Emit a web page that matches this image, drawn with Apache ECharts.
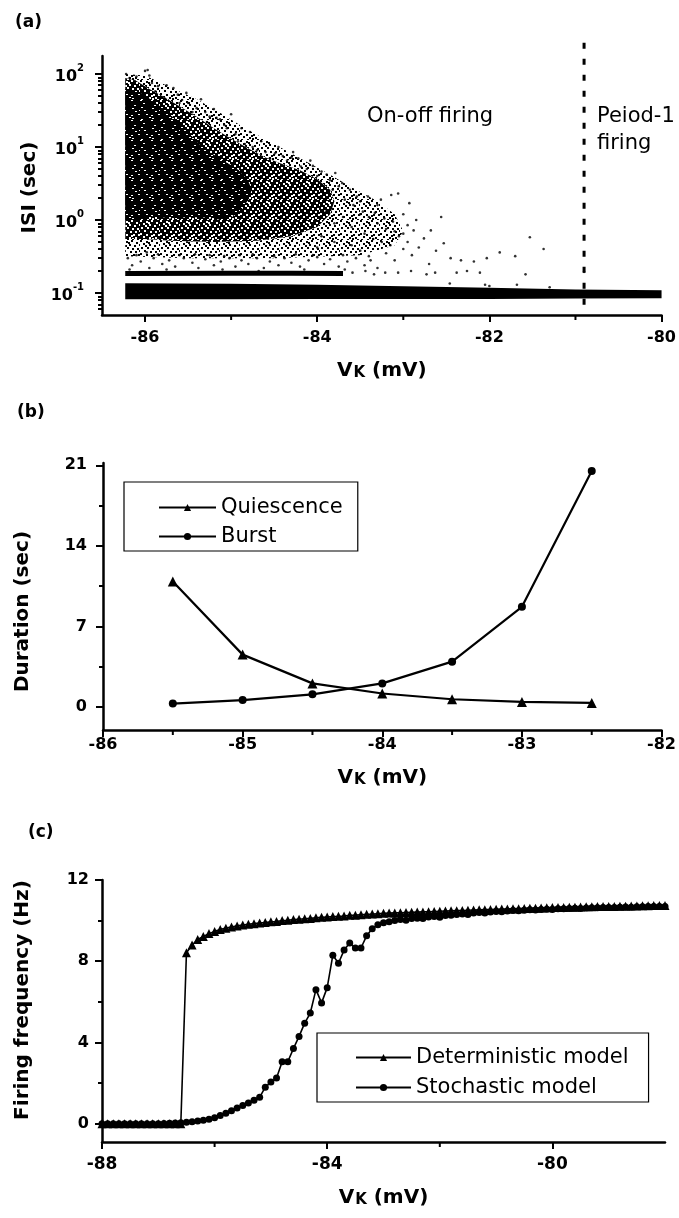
<!DOCTYPE html>
<html><head><meta charset="utf-8">
<script src="https://cdn.jsdelivr.net/npm/echarts@6/dist/echarts.min.js"></script>
<style>html,body{margin:0;padding:0;background:#fff}#c{width:679px;height:1218px}</style>
</head><body><div id="c"></div>
<script>
const FONT = 'DejaVu Sans';

// ---------- panel (a): ISI vs V_K ----------
const isiTicks = [0.1, 1, 10, 100];
const isiMinorTicks = [0.06,0.07,0.08,0.09,0.2,0.3,0.4,0.5,0.6,0.7,0.8,0.9,2,3,4,5,6,7,8,9,20,30,40,50,60,70,80,90];
const vkTicksA = [-86, -84, -82, -80];
const vkMinorA = [-85, -83, -81];
// density zones of the ISI cloud (outlines)
const cloudLight = [[-86.23,100],[-86.0,95],[-85.7,65],[-85.4,45],[-85.1,28],[-84.8,17],[-84.5,11],[-84.2,7],[-83.9,4.5],[-83.6,2.8],[-83.3,1.8],[-83.1,1.2],[-83.0,0.7],[-83.1,0.45],[-83.5,0.33],[-84.5,0.3],[-85.5,0.3],[-86.23,0.32]];
const cloudMedium = [[-86.23,88],[-86.1,80],[-85.95,62],[-85.8,50],[-85.6,36],[-85.4,26],[-85.2,18],[-85.0,13],[-84.8,9.5],[-84.6,7.2],[-84.4,5.8],[-84.2,4.8],[-84.0,3.6],[-83.85,2.6],[-83.8,1.8],[-83.85,1.2],[-84.0,0.8],[-84.3,0.6],[-84.7,0.52],[-85.2,0.5],[-85.7,0.52],[-86.0,0.55],[-86.23,0.55]];
const cloudCore = [[-86.23,62],[-86.1,58],[-86.03,54],[-85.95,46],[-85.88,40],[-85.78,33],[-85.68,26],[-85.58,20],[-85.49,15.5],[-85.4,12],[-85.3,9],[-85.2,7.8],[-85.1,6.6],[-85.0,5.6],[-84.91,4.8],[-84.85,4],[-84.8,3.4],[-84.76,2.6],[-84.8,1.9],[-84.86,1.5],[-84.91,1.25],[-85.0,1.1],[-85.1,1.0],[-85.3,1.08],[-85.5,1.1],[-85.7,1.05],[-85.9,1.12],[-86.05,1.0],[-86.23,1.0]];
const band01 = [[-86.23,0.136],[-85,0.134],[-84,0.13],[-83,0.124],[-82,0.118],[-81,0.112],[-80,0.109],[-80,0.085],[-81,0.084],[-82,0.083],[-84,0.083],[-85,0.082],[-86.23,0.082]];
const band019 = [[-86.23,0.185],[-85,0.187],[-84.3,0.186],[-83.7,0.185]];
const isiPoints = [
 [-86.22,100],[-86.18,88],[-86.1,92],[-86.0,110],[-85.97,113],[-85.92,75],[-85.85,68],[-85.67,64],[-85.62,52],[-85.57,44],
 [-85.5,40],[-85.4,34],[-85.3,30],[-85.25,26],[-85.17,25],[-85.13,24],[-85.05,18],[-84.95,15],[-84.84,11],[-84.75,10],
 [-84.6,8.5],[-84.49,8.2],[-84.4,7.5],[-84.3,7.2],[-84.22,7],[-84.19,5.4],[-84.05,5.5],[-83.95,4.6],[-83.89,4.2],[-83.79,4.4],
 [-83.71,3.2],[-83.62,2.6],[-83.54,2.1],[-83.41,2.1],[-83.3,1.6],[-83.26,1.9],[-83.14,2.2],[-83.06,2.3],[-82.93,1.7],[-83.0,1.2],
 [-82.85,1.0],[-82.56,1.1],[-82.88,0.72],[-82.68,0.72],[-82.76,0.56],[-82.53,0.48],[-82.62,0.38],[-82.45,0.3],[-82.33,0.28],[-82.18,0.27],
 [-82.03,0.3],[-81.88,0.36],[-81.7,0.32],[-81.53,0.58],[-81.37,0.4],[-81.58,0.18],[-81.68,0.13],[-82.05,0.13],[-82.46,0.135],[-80.9,0.195],
 [-82.95,0.5],[-82.9,0.33],[-83.05,0.6],[-83.15,0.45],[-83.2,0.75],[-83.35,0.55],[-83.1,0.28],[-82.7,0.25],
 [-83.59,0.19],[-83.44,0.2],[-83.34,0.18],[-83.21,0.19],[-83.06,0.19],[-82.91,0.2],[-82.73,0.18],[-82.63,0.19],[-82.38,0.19],[-82.26,0.2],[-82.11,0.19],
 [-86.2,0.3],[-86.15,0.24],[-86.05,0.27],[-85.95,0.22],[-85.9,0.3],[-85.8,0.25],[-85.72,0.28],[-85.65,0.23],[-85.55,0.3],[-85.45,0.26],
 [-85.38,0.22],[-85.3,0.29],[-85.2,0.24],[-85.12,0.27],[-85.02,0.3],[-84.95,0.23],[-84.88,0.28],[-84.8,0.25],[-84.7,0.3],[-84.62,0.22],
 [-84.55,0.27],[-84.45,0.24],[-84.38,0.3],[-84.3,0.26],[-84.2,0.23],[-84.1,0.28],[-84.0,0.31],[-83.92,0.25],[-83.85,0.29],[-83.75,0.23],
 [-83.65,0.27],[-83.55,0.3],[-83.45,0.24],[-83.38,0.28],[-83.3,0.22],
 [-83.9,1.3],[-83.8,0.9],[-83.7,1.1],[-83.6,0.8],[-83.5,1.2],[-83.45,0.65],[-83.3,0.9],[-83.25,0.5],[-83.1,0.7],[-83.6,0.45],
 [-83.8,0.5],[-84.0,0.42],[-83.95,0.6],[-82.0,0.125],[-81.3,0.12],
 [-86.12,80],[-86.05,62],[-85.95,95],[-85.88,58],[-85.78,48],[-85.75,70],[-85.6,40],[-85.52,55],[-85.45,30],[-85.35,45],
 [-85.28,22],[-85.2,33],[-85.08,20],[-85.0,28],[-84.92,12],[-84.88,18],[-84.78,16],[-84.7,9],[-84.65,12],[-84.55,7],
 [-84.45,10],[-84.35,6.5],[-84.28,8.5],[-84.12,5],[-84.08,6.5],[-84.0,4],[-83.98,3.2],[-83.85,3.5],[-83.82,2.6],[-83.75,2.9],
 [-83.68,1.9],[-83.58,1.6],[-83.5,1.8],[-83.47,1.3],[-83.4,1.1],[-83.33,1.25],[-83.22,1.05],
 [-86.1,0.33],[-85.98,0.36],[-85.85,0.34],[-85.6,0.33],[-85.42,0.34],[-85.25,0.33],[-85.08,0.32],[-84.9,0.33],[-84.75,0.34],[-84.5,0.32],
 [-84.25,0.34],[-84.05,0.33],[-83.7,0.33],[-83.5,0.38],[-83.4,0.32],[-86.18,0.21],[-85.75,0.21],[-85.1,0.21],[-84.68,0.2],[-84.15,0.21],
 [-83.68,0.21],[-83.2,0.35],[-83.0,0.4],[-82.95,0.85],[-82.82,0.42],[-83.12,0.95],[-83.0,0.65]
];
const transitionLine = [[-80.9,0.069],[-80.9,320]];

// ---------- panel (b): durations ----------
const vkB = [-85.5, -85, -84.5, -84, -83.5, -83, -82.5];
const quiescence = [10.9, 4.55, 2.05, 1.17, 0.67, 0.44, 0.35];
const burst = [0.3, 0.6, 1.1, 2.05, 3.94, 8.7, 20.5];
const vkTicksB = [-86, -85, -84, -83, -82];
const vkMinorB = [-85.5, -84.5, -83.5, -82.5];
const durTicks = [0, 7, 14, 21];
const durMinor = [3.5, 10.5, 17.5];

// ---------- panel (c): firing frequency ----------
const vkC = [
 -88,-87.9,-87.8,-87.7,-87.6,-87.5,-87.4,-87.3,-87.2,-87.1,
 -87,-86.9,-86.8,-86.7,-86.6,-86.5,-86.4,-86.3,-86.2,-86.1,
 -86,-85.9,-85.8,-85.7,-85.6,-85.5,-85.4,-85.3,-85.2,-85.1,
 -85,-84.9,-84.8,-84.7,-84.6,-84.5,-84.4,-84.3,-84.2,-84.1,
 -84,-83.9,-83.8,-83.7,-83.6,-83.5,-83.4,-83.3,-83.2,-83.1,
 -83,-82.9,-82.8,-82.7,-82.6,-82.5,-82.4,-82.3,-82.2,-82.1,
 -82,-81.9,-81.8,-81.7,-81.6,-81.5,-81.4,-81.3,-81.2,-81.1,
 -81,-80.9,-80.8,-80.7,-80.6,-80.5,-80.4,-80.3,-80.2,-80.1,
 -80,-79.9,-79.8,-79.7,-79.6,-79.5,-79.4,-79.3,-79.2,-79.1,
 -79,-78.9,-78.8,-78.7,-78.6,-78.5,-78.4,-78.3,-78.2,-78.1,
 -78];
const deterministic = [
 0,0,0,0,0,0,0,0,0,0,
 0,0,0,0,0,8.42,8.8,9.07,9.22,9.36,
 9.47,9.56,9.63,9.69,9.74,9.78,9.82,9.85,9.88,9.91,
 9.94,9.96,10.0,10.02,10.05,10.07,10.09,10.11,10.14,10.16,
 10.18,10.2,10.21,10.23,10.26,10.27,10.29,10.31,10.32,10.34,
 10.36,10.37,10.38,10.39,10.4,10.41,10.42,10.43,10.44,10.45,
 10.46,10.47,10.48,10.49,10.5,10.51,10.52,10.53,10.54,10.55,
 10.56,10.57,10.57,10.58,10.59,10.6,10.61,10.61,10.62,10.63,
 10.64,10.64,10.65,10.66,10.66,10.67,10.68,10.68,10.69,10.69,
 10.7,10.7,10.71,10.71,10.72,10.72,10.73,10.73,10.74,10.74,
 10.75];
const stochastic = [
 0,0,0,0,0,0,0,0,0,0,
 0,0.01,0.02,0.03,0.05,0.07,0.1,0.13,0.17,0.22,
 0.3,0.4,0.52,0.64,0.77,0.9,1.02,1.15,1.3,1.8,
 2.05,2.25,3.05,3.05,3.7,4.3,4.95,5.45,6.6,5.95,
 6.7,8.3,7.9,8.55,8.9,8.65,8.65,9.25,9.6,9.8,
 9.9,9.95,10.0,10.05,10.02,10.1,10.12,10.1,10.18,10.2,
 10.16,10.25,10.27,10.3,10.32,10.3,10.37,10.4,10.38,10.42,
 10.45,10.44,10.47,10.5,10.48,10.51,10.53,10.52,10.55,10.56,
 10.55,10.58,10.59,10.6,10.61,10.6,10.62,10.63,10.63,10.64,
 10.65,10.64,10.66,10.67,10.66,10.68,10.68,10.69,10.69,10.7,
 10.7];
const vkTicksC = [-88, -84, -80];
const vkMinorC = [-86, -82];
const freqTicks = [0, 4, 8, 12];
const freqMinor = [2, 6, 10];

// ---------- helpers ----------
const zip = (xs, ys) => xs.map((x, i) => [x, ys[i]]);
const BLACK = '#000';
const ISI_MIN = 0.05, ISI_MAX = 176;
const DUR_MIN = -2, DUR_MAX = 21.2;
const FREQ_MIN = -0.9, FREQ_MAX = 12;

// stipple textures standing in for the overplotted dots of the cloud
const speckSpots = [[0,0],[6,1],[11,0],[16,2],[3,3],[9,4],[14,5],[19,4],[1,7],[7,7],[12,8],[17,8],[4,10],[10,11],
  [15,11],[0,13],[6,14],[13,14],[18,14],[3,16],[9,17],[15,17],[1,19],[7,19],[12,18],[17,19],[19,10],[5,5],[11,15],[8,2]];
function stipple(bg, fg, specks, w, h) {
  const cv = document.createElement('canvas');
  cv.width = 20; cv.height = 20;
  const ctx = cv.getContext('2d');
  if (bg) { ctx.fillStyle = bg; ctx.fillRect(0, 0, 20, 20); }
  ctx.fillStyle = fg;
  specks.forEach(([x, y]) => ctx.fillRect(x, y, w, h));
  return {image: cv, repeat: 'repeat'};
}
const lightTexture = stipple(null, '#000', speckSpots, 2, 2);
const mediumTexture = stipple('#000', '#fff', speckSpots, 2, 2);
const denseTexture = stipple('#000', '#fff', speckSpots.filter((p, i) => i % 2 === 0), 2, 1);

const lineAxis = {show: true, onZero: false, lineStyle: {color: BLACK, width: 2.5}};
const tickStyle = {color: BLACK, width: 2};
const labelFont = (size, margin) => ({fontFamily: FONT, fontWeight: 'bold', fontSize: size, color: BLACK, margin});
const titleStyle = (padding) => ({fontFamily: FONT, fontWeight: 'bold', fontSize: 20, color: BLACK, padding});
const vkName = '{v|V}{k|K}{v| (mV)}';
const vkNameStyle = {
  rich: {
    v: {fontFamily: FONT, fontWeight: 'bold', fontSize: 20, color: BLACK, lineHeight: 20, verticalAlign: 'top'},
    k: {fontFamily: FONT, fontWeight: 'bold', fontSize: 15, color: BLACK, lineHeight: 15, padding: [19, 0, 0, 1], verticalAlign: 'bottom'}
  }
};
function mainX(grid, min, max, ticks, margin, size, gap) {
  return {gridIndex: grid, type: 'value', position: 'bottom', min, max, axisLine: lineAxis,
    axisTick: {show: true, length: 7, lineStyle: tickStyle, customValues: ticks},
    axisLabel: Object.assign({customValues: ticks}, labelFont(size, margin)),
    splitLine: {show: false}, name: vkName, nameLocation: 'middle', nameGap: gap, nameTextStyle: vkNameStyle};
}
function minorYAxis(grid, type, min, max, ticks) {
  return {gridIndex: grid, type, position: 'left', min, max, axisLine: {show: false, onZero: false},
    axisTick: {show: true, length: 4, lineStyle: tickStyle, customValues: ticks},
    axisLabel: {show: false}, splitLine: {show: false}};
}
function mainY(grid, type, min, max, ticks, margin, name, gap, padding, extraLabel) {
  return {gridIndex: grid, type, position: 'left', min, max, axisLine: lineAxis,
    axisTick: {show: true, length: 7, lineStyle: tickStyle, customValues: ticks},
    axisLabel: Object.assign({customValues: ticks}, labelFont(16, margin), extraLabel || {}),
    splitLine: {show: false}, name, nameLocation: 'middle', nameGap: gap, nameTextStyle: titleStyle(padding)};
}
function polygonSeries(pts, fill) {
  return {type: 'custom', xAxisIndex: 0, yAxisIndex: 0, data: pts, encode: {x: 0, y: 1}, silent: true, clip: true,
    renderItem: (params, api) => params.dataIndex === 0 ? {
      type: 'polygon', shape: {points: pts.map(p => api.coord(p))}, style: {fill}
    } : null};
}
// short minor tick marks under an x axis, placed through the axis scale
function minorXTicks(xIdx, yIdx, values, yMin) {
  return {type: 'custom', xAxisIndex: xIdx, yAxisIndex: yIdx, data: values.map(v => [v, yMin]),
    encode: {x: 0, y: 1}, clip: false, silent: true, z: 5,
    renderItem: (params, api) => {
      const p = api.coord([api.value(0), api.value(1)]);
      return {type: 'line', shape: {x1: p[0], y1: p[1] + 1, x2: p[0], y2: p[1] + 5},
              style: {stroke: BLACK, lineWidth: 2}};
    }};
}

const option = {
  animation: false,
  backgroundColor: '#fff',
  grid: [
    {left: 102, top: 56, width: 563, height: 259},
    {left: 103, top: 463, width: 562, height: 267},
    {left: 102, top: 880, width: 563, height: 262}
  ],
  xAxis: [
    mainX(0, -86.5, -80, vkTicksA, 15, 16, 32),
    mainX(1, -86, -82, vkTicksB, 7, 16, 35),
    mainX(2, -88, -78, vkTicksC, 14, 17, 41)
  ],
  yAxis: [
    mainY(0, 'log', ISI_MIN, ISI_MAX, isiTicks, 18, 'ISI (sec)', 57, [0, 4, 0, 0], {
      formatter: v => '{b|10}{s|' + Math.round(Math.log10(v)) + '}',
      rich: {
        b: {fontFamily: FONT, fontWeight: 'bold', fontSize: 16, color: BLACK, lineHeight: 22, verticalAlign: 'bottom'},
        s: {fontFamily: FONT, fontWeight: 'bold', fontSize: 10, color: BLACK, lineHeight: 12, verticalAlign: 'top'}
      }
    }),
    minorYAxis(0, 'log', ISI_MIN, ISI_MAX, isiMinorTicks),
    mainY(1, 'value', DUR_MIN, DUR_MAX, durTicks, 16, 'Duration (sec)', 70, [0, 30, 0, 0]),
    minorYAxis(1, 'value', DUR_MIN, DUR_MAX, durMinor),
    mainY(2, 'value', FREQ_MIN, FREQ_MAX, freqTicks, 13, 'Firing frequency (Hz)', 69, [0, 0, 0, 22]),
    minorYAxis(2, 'value', FREQ_MIN, FREQ_MAX, freqMinor)
  ],
  legend: [
    {data: ['Quiescence', 'Burst'], orient: 'vertical', left: 124, top: 482, padding: [15, 15, 4, 34],
     itemGap: 8, itemWidth: 57, itemHeight: 9, selectedMode: false,
     borderColor: BLACK, borderWidth: 1.2, textStyle: {fontFamily: FONT, fontSize: 21, color: BLACK, lineHeight: 21}},
    {data: ['Deterministic model', 'Stochastic model'], orient: 'vertical', left: 317, top: 1033, padding: [14, 20, 4, 38],
     itemGap: 9, itemWidth: 55, itemHeight: 9, selectedMode: false,
     borderColor: BLACK, borderWidth: 1.2, textStyle: {fontFamily: FONT, fontSize: 21, color: BLACK, lineHeight: 21}}
  ],
  graphic: [
    {type: 'text', left: 15, top: 14, style: {text: '(a)', font: 'bold 17px "DejaVu Sans"', fill: BLACK}},
    {type: 'text', left: 17, top: 404, style: {text: '(b)', font: 'bold 17px "DejaVu Sans"', fill: BLACK}},
    {type: 'text', left: 28, top: 824, style: {text: '(c)', font: 'bold 17px "DejaVu Sans"', fill: BLACK}},
    {type: 'text', left: 367, top: 106, style: {text: 'On-off firing', font: '21px "DejaVu Sans"', fill: BLACK}},
    {type: 'text', left: 597, top: 106, style: {text: 'Peiod-1', font: '21px "DejaVu Sans"', fill: BLACK}},
    {type: 'text', left: 597, top: 133, style: {text: 'firing', font: '21px "DejaVu Sans"', fill: BLACK}}
  ],
  series: [
    polygonSeries(cloudLight, lightTexture),
    polygonSeries(cloudMedium, mediumTexture),
    polygonSeries(cloudCore, denseTexture),
    polygonSeries(band01, BLACK),
    {type: 'line', xAxisIndex: 0, yAxisIndex: 0, data: band019, symbol: 'none', silent: true,
     lineStyle: {color: BLACK, width: 5}},
    {type: 'scatter', xAxisIndex: 0, yAxisIndex: 0, data: isiPoints, symbolSize: 2.6, silent: true,
     itemStyle: {color: BLACK}},
    {type: 'custom', xAxisIndex: 0, yAxisIndex: 0, data: transitionLine, encode: {x: 0, y: 1}, clip: false, silent: true,
     renderItem: (params, api) => {
       if (params.dataIndex !== 0) return null;
       const a = api.coord(transitionLine[0]), b = api.coord(transitionLine[1]);
       return {type: 'line', shape: {x1: a[0], y1: a[1], x2: b[0], y2: b[1]},
               style: {stroke: BLACK, lineWidth: 3, lineDash: [6, 10]}};
     }},
    minorXTicks(0, 0, vkMinorA, ISI_MIN),
    minorXTicks(1, 2, vkMinorB, DUR_MIN),
    minorXTicks(2, 4, vkMinorC, FREQ_MIN),
    {name: 'Quiescence', type: 'line', xAxisIndex: 1, yAxisIndex: 2, data: zip(vkB, quiescence),
     symbol: 'triangle', symbolSize: 10, showAllSymbol: true,
     lineStyle: {color: BLACK, width: 2.2}, itemStyle: {color: BLACK}},
    {name: 'Burst', type: 'line', xAxisIndex: 1, yAxisIndex: 2, data: zip(vkB, burst),
     symbol: 'circle', symbolSize: 8, showAllSymbol: true,
     lineStyle: {color: BLACK, width: 2.2}, itemStyle: {color: BLACK}},
    {name: 'Stochastic model', type: 'line', xAxisIndex: 2, yAxisIndex: 4, data: zip(vkC, stochastic),
     symbol: 'circle', symbolSize: 7, showAllSymbol: true,
     lineStyle: {color: BLACK, width: 1.6}, itemStyle: {color: BLACK}},
    {name: 'Deterministic model', type: 'line', xAxisIndex: 2, yAxisIndex: 4, data: zip(vkC, deterministic),
     symbol: 'triangle', symbolSize: 9, showAllSymbol: true,
     lineStyle: {color: BLACK, width: 1.6}, itemStyle: {color: BLACK}}
  ]
};

const chart = echarts.init(document.getElementById('c'), null, {renderer: 'canvas', width: 679, height: 1218});
chart.setOption(option);
</script>
</body></html>
